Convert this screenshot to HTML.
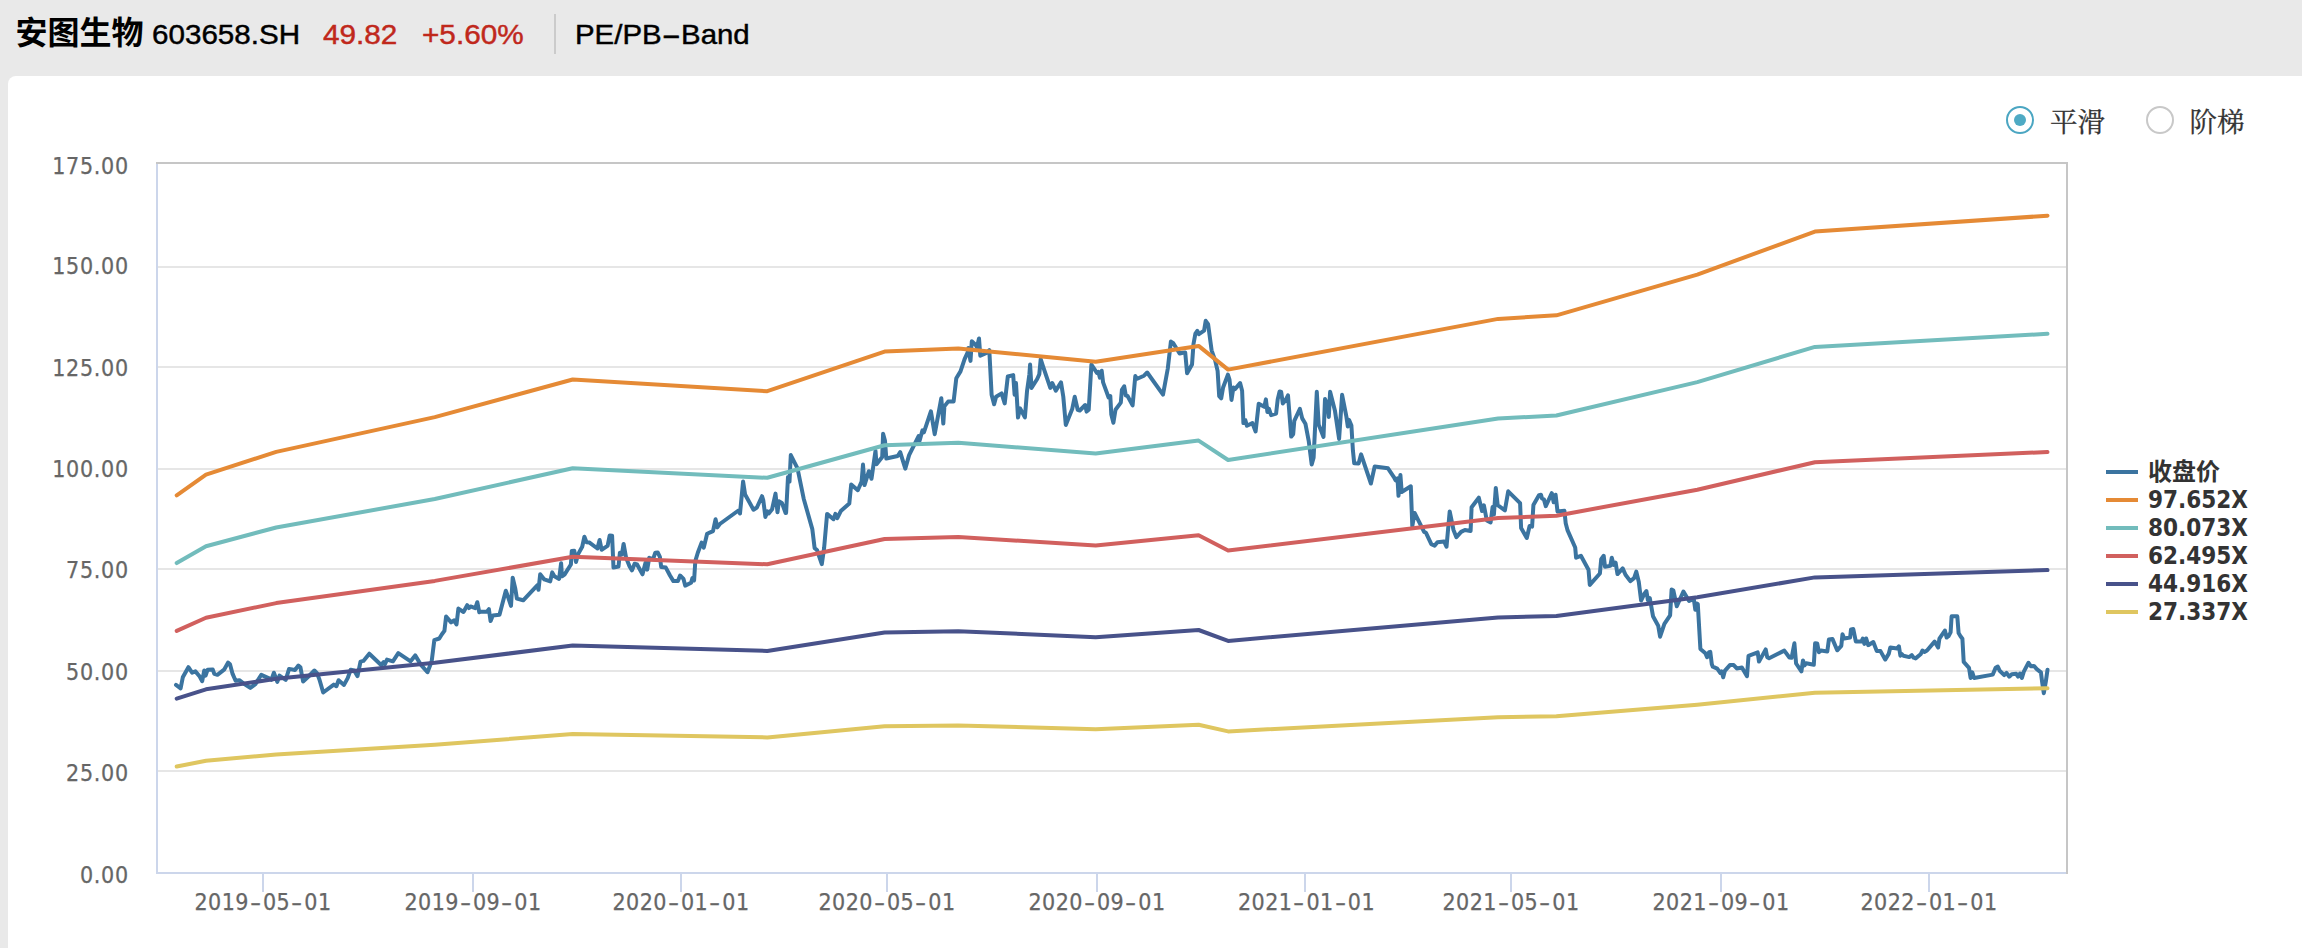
<!DOCTYPE html>
<html lang="zh-CN"><head><meta charset="utf-8"><title>PE/PB-Band</title>
<style>
html,body{margin:0;padding:0;}
body{width:2302px;height:948px;overflow:hidden;background:#e9e9e9;position:relative;font-family:"Liberation Sans","Noto Sans CJK SC",sans-serif;}
.panel{position:absolute;left:8px;top:76px;width:2310px;height:900px;background:#fff;border-radius:8px 0 0 0;}
.chart{position:absolute;left:0;top:0;}
.hd{position:absolute;top:0;height:68px;line-height:68px;white-space:nowrap;color:#000;}
.name{left:15.4px;top:-0.6px;font-size:32px;font-weight:bold;font-family:"Liberation Sans","Noto Sans CJK SC",sans-serif;}
.code{top:0.7px;left:152px;font-size:28px;transform:scaleX(1.057);transform-origin:0 50%;-webkit-text-stroke:0.45px currentColor;}
.px{top:0.7px;left:323px;font-size:28px;color:#c0281c;transform:scaleX(1.062);transform-origin:0 50%;-webkit-text-stroke:0.45px currentColor;}
.chg{top:0.7px;left:421.5px;font-size:28px;color:#c0281c;transform:scaleX(1.062);transform-origin:0 50%;-webkit-text-stroke:0.45px currentColor;}
.sep{position:absolute;left:554px;top:14px;width:2px;height:40px;background:#cbcbcb;}
.ttl{top:0.7px;left:574.7px;font-size:28px;transform:scaleX(1.05);transform-origin:0 50%;-webkit-text-stroke:0.45px currentColor;}
.ttl i{font-style:normal;display:inline-block;transform:scaleX(2);margin:0 4.6px;}
.yl{position:absolute;right:2173.2px;letter-spacing:0.7px;font:23px/28px "DejaVu Sans Condensed","DejaVu Sans",sans-serif;font-stretch:condensed;color:#666;white-space:nowrap;-webkit-text-stroke:0.25px #666;}
.xl{position:absolute;top:888px;width:200px;text-align:center;letter-spacing:0.45px;font:23px/28px "DejaVu Sans Condensed","DejaVu Sans",sans-serif;color:#666;white-space:nowrap;-webkit-text-stroke:0.25px #666;font-stretch:condensed;}
.xl i{font-style:normal;display:inline-block;transform:scaleX(1.5);margin:0 3.1px;}
.lg{position:absolute;left:2148px;font:bold 24px/28px "DejaVu Sans Condensed","DejaVu Sans","Noto Sans CJK SC",sans-serif;font-stretch:condensed;color:#333;white-space:nowrap;}
.radio{position:absolute;top:106px;width:24px;height:24px;border-radius:50%;border:2px solid #c8c8c8;background:#fff;}
.radio.on{border-color:#4ba6c2;}
.radio.on::after{content:"";position:absolute;left:6px;top:6px;width:12px;height:12px;border-radius:50%;background:#4eaac4;}
.rl{position:absolute;top:103.3px;font:27.5px/40px "Liberation Serif","Noto Serif CJK SC",serif;color:#333;white-space:nowrap;-webkit-text-stroke:0.3px #333;}
</style></head><body>
<div class="panel"></div>
<div class="hd name">安图生物</div>
<div class="hd code">603658.SH</div>
<div class="hd px">49.82</div>
<div class="hd chg">+5.60%</div>
<div class="sep"></div>
<div class="hd ttl">PE/PB<i>-</i>Band</div>

<svg class="chart" width="2302" height="948" viewBox="0 0 2302 948">
<rect x="158" y="266" width="1908" height="2" fill="#e6e6e6"/>
<rect x="158" y="366" width="1908" height="2" fill="#e6e6e6"/>
<rect x="158" y="468" width="1908" height="2" fill="#e6e6e6"/>
<rect x="158" y="568" width="1908" height="2" fill="#e6e6e6"/>
<rect x="158" y="670" width="1908" height="2" fill="#e6e6e6"/>
<rect x="158" y="770" width="1908" height="2" fill="#e6e6e6"/>
<rect x="156" y="162" width="1912" height="2" fill="#c6c6c6"/>
<rect x="2066" y="162" width="2" height="712" fill="#c6c6c6"/>
<rect x="156" y="164" width="2" height="710" fill="#ccd6eb"/>
<rect x="156" y="872" width="1910" height="2" fill="#ccd6eb"/>
<rect x="262" y="874" width="2" height="18" fill="#ccd6eb"/>
<rect x="472" y="874" width="2" height="18" fill="#ccd6eb"/>
<rect x="680" y="874" width="2" height="18" fill="#ccd6eb"/>
<rect x="886" y="874" width="2" height="18" fill="#ccd6eb"/>
<rect x="1096" y="874" width="2" height="18" fill="#ccd6eb"/>
<rect x="1304" y="874" width="2" height="18" fill="#ccd6eb"/>
<rect x="1510" y="874" width="2" height="18" fill="#ccd6eb"/>
<rect x="1720" y="874" width="2" height="18" fill="#ccd6eb"/>
<rect x="1928" y="874" width="2" height="18" fill="#ccd6eb"/>
<path d="M176 684.9 L180.6 688.3 L182.8 677.3 L188.4 667.2 L192.1 672.7 L195.4 671.4 L199.7 676.5 L202.2 681.2 L204.2 670.5 L205.6 675.6 L207.6 669.7 L212.7 669.4 L214.3 673.9 L217.4 674.8 L224.1 669.7 L228 662.6 L230 664.3 L232.6 673.9 L235.6 680.7 L239.3 680.2 L244.4 684.1 L250.3 687.9 L255.4 684.1 L261.3 674.8 L268 677.8 L271.4 679.8 L273.9 672.7 L277.3 681.9 L279.5 675.6 L285.7 679.8 L289.1 668.9 L295 670 L298.4 665.5 L300.4 667.2 L303.1 681.5 L308.5 676.5 L314.4 670.5 L317 673.1 L319.5 679.8 L323.2 692.5 L333.8 684.6 L336.4 686.2 L338.6 680.2 L344 684.9 L347.7 678.1 L350.7 669.7 L354.1 670.5 L357.5 676.1 L360.5 661.6 L363.4 660.9 L369.3 653.7 L381.1 665 L383.6 662.1 L384.8 664.3 L387 659.6 L392.9 661.3 L398.3 653.2 L410.6 661.3 L415.2 655.4 L420.8 664.6 L427.5 672.2 L431.7 661.3 L434.3 640.2 L439.3 638.5 L441.9 634.3 L444.4 630.9 L446.1 616.5 L451.1 622.4 L454 620.4 L456.5 624.5 L458.4 608.6 L463.5 612 L467.2 605.2 L468.9 608.1 L470.5 606.4 L475.3 608.1 L477.3 602.2 L479.3 612.3 L479.8 611.4 L486.9 611.8 L488.9 609.2 L490.6 621.1 L492.8 615.5 L499.5 614.8 L505.8 590.7 L508.5 598.3 L511 605.9 L512.7 577.7 L515.2 588.1 L516.9 598.6 L523.2 600.3 L537.5 585.1 L538.5 589.8 L540.2 574.3 L544.3 579.4 L550.2 581.4 L552.2 572.4 L554.4 576.3 L559.1 578.9 L561.1 563.2 L562 576.3 L564.5 574.6 L570.9 564.5 L571.8 551 L574.3 550.7 L576 562 L578 554.4 L582.2 546.8 L584.4 536.7 L586.5 542.2 L589.5 542.6 L597.4 548.5 L599.6 540 L601.6 549.7 L607.6 545.9 L609.7 535.5 L612.1 535.8 L613.5 567.6 L618.5 566.5 L619.9 552.7 L621.9 554.4 L623.6 543.9 L626.1 557.8 L629.5 566.2 L632 570.4 L634.6 563.7 L637.1 564.5 L642.5 574.3 L645.5 562.8 L647.2 569.6 L649.2 557.8 L653.1 559.1 L655.3 552.7 L657.7 552.4 L659.9 556.9 L661.2 567 L665.8 567.6 L670 575.5 L673.4 581.1 L677.9 581.1 L680.1 575.5 L683.5 578.9 L685.2 585.6 L691.1 582.7 L692.4 578 L694.1 580.5 L695.3 561.1 L697.8 552.7 L701.6 542.6 L703.8 547.6 L707.1 533.8 L713 531.1 L715.6 519.3 L717.3 527.4 L719.8 524 L738.4 510.5 L740 513.5 L743.1 481.5 L745.1 494.5 L753.5 509.7 L756.9 507.5 L762 496.2 L763.3 500.4 L765.4 516.9 L767.4 511.4 L768.7 513.5 L772.1 509.2 L775.5 493.6 L777.5 512.2 L778.9 501.2 L781.9 502.9 L785.6 513 L786.1 513 L788 476.9 L789.5 481.6 L790.8 455.1 L797.5 468.4 L803.7 498.7 L812.3 529.1 L814.6 548.1 L817 550 L821.8 564.2 L824.1 548.1 L827.1 513.9 L833.5 519.2 L835.4 513.9 L837.3 518.1 L840.8 511.1 L849.3 503.5 L851.2 484.5 L857.8 490.2 L861.6 481.6 L863 464.6 L864.5 485.1 L868.9 471.2 L871.5 478.8 L875.5 450.9 L876.5 464.2 L882.2 457 L883.1 433.8 L885 440.8 L886.3 458.5 L897.7 456 L900.2 452.2 L905.3 468.7 L909.1 455.1 L918.6 436.1 L919.6 440.8 L922.4 430.4 L923.9 432.3 L930.9 411.4 L934.7 434.2 L941.3 398.2 L943.3 423.5 L944.4 406.4 L948.1 401.6 L953.6 401.6 L956.3 378.3 L960.5 371.4 L964.6 359.1 L967.7 352.2 L968.3 348.1 L970.5 360.9 L971.8 341.3 L975.5 344.7 L976.9 347.4 L979 338.5 L980.3 355.7 L986.5 352.9 L989.3 350.2 L991.6 394.7 L994.1 404.3 L996.1 396.8 L1001.6 393.4 L1004.7 403.4 L1007.8 376.5 L1013.2 375.1 L1014.6 394.7 L1016 383.1 L1018 417.6 L1020.1 408.4 L1024.9 417.4 L1027 391.3 L1029.4 374.2 L1030.1 364.6 L1031.5 387.9 L1037.2 379 L1039.3 374.2 L1040.7 359.1 L1042.7 365.3 L1050.3 387.9 L1052.3 383.1 L1055.8 390.6 L1061 382.4 L1063.3 396.8 L1065.8 424.9 L1072.2 409.1 L1074.7 396.8 L1077.7 409.8 L1079.8 410.5 L1085.2 405 L1086.6 411.6 L1088.7 409.8 L1091.4 364.6 L1096.9 372.8 L1098.3 371.8 L1099.9 377.6 L1101.7 370.7 L1103.1 382.4 L1108.6 397.5 L1110.3 396.1 L1111.3 414.6 L1113.4 422.8 L1115.5 409.7 L1120.8 402.6 L1121.9 389.9 L1124.2 386.3 L1125.8 395.4 L1127.7 396.2 L1132.6 405.4 L1135.3 376.1 L1137.2 378.8 L1144 375.7 L1147.2 372.5 L1163 394.7 L1167.8 368.5 L1170.9 341.6 L1173.3 343.2 L1179.6 353.5 L1182.8 352.7 L1185.2 352.4 L1187.1 373.3 L1192 364.6 L1193.5 344 L1195.4 333.7 L1197.3 330.9 L1198.9 334.1 L1204.1 330.6 L1205.7 320.8 L1208.1 324.2 L1211.6 350.3 L1215.2 360.6 L1217.6 370.9 L1219.2 396.2 L1221.2 398.3 L1223.1 387.5 L1227.9 374.6 L1229.5 379.6 L1231.5 399.9 L1233.4 387.5 L1235 389.1 L1240.1 383.1 L1242.1 390.7 L1243.4 423.1 L1245.3 420 L1246.9 425.8 L1252.4 423.1 L1255.6 431.5 L1258.7 403.7 L1264.3 406.8 L1265.9 399.4 L1267.4 412.1 L1269 408.9 L1271.1 415.2 L1276.1 413.6 L1277.7 399.4 L1279.6 391.5 L1281.2 392 L1282.8 403.4 L1285.6 400.2 L1288 395.4 L1291.2 436.6 L1293.2 434.2 L1294.3 420.8 L1299.9 408.9 L1302.2 418.4 L1305.4 423.7 L1308.7 440.8 L1311.7 464.5 L1313.6 457.8 L1316.8 391.8 L1318.7 424.6 L1323.5 437 L1325 399 L1327.7 404.7 L1328.8 417 L1330.1 391.8 L1334.9 410.4 L1339.1 438.9 L1342.1 394.8 L1346.3 416.1 L1347.8 426.5 L1349.1 419.9 L1351.4 425.6 L1352.9 450.3 L1354.2 463.2 L1358.6 463.5 L1361.1 454.4 L1370.9 483.5 L1374.7 466.4 L1388 468.3 L1393.7 476.8 L1395.6 480.3 L1397.5 478.4 L1398.5 495.8 L1400.4 474.9 L1401.7 492 L1410.8 486.3 L1412.3 526.2 L1414.6 512.9 L1424.1 531.9 L1426 532.8 L1431.3 544.2 L1434.6 545.6 L1437.4 542.3 L1444.1 541.4 L1446.5 546.7 L1449.7 511.4 L1453.5 530 L1456.4 537.2 L1461.1 531.9 L1464.9 530 L1470.6 530.9 L1471.6 507.2 L1478.8 497.7 L1482 511 L1483.9 505.3 L1486.8 520.5 L1490.6 522.4 L1492.6 507 L1493.9 514.6 L1495.8 488 L1497.7 505.1 L1504.9 510.3 L1508.2 491.3 L1520.1 503.2 L1521.1 527.9 L1526.8 538 L1529.6 526 L1532.1 526.6 L1533.4 505.1 L1539.1 495.1 L1541 494.7 L1542 498.5 L1543.9 499.4 L1545.8 506.1 L1551.8 493.2 L1553.7 502.3 L1555.6 494.7 L1557.5 511.4 L1564.4 510.8 L1565.7 523.2 L1567.6 530.4 L1575.2 547.5 L1576.1 557.7 L1580.9 555.8 L1588.5 569.7 L1589.8 584.9 L1599.9 573.5 L1601.2 559.2 L1603.7 555.8 L1605 566.8 L1610.3 565.9 L1611.8 557.7 L1613.7 564.9 L1615.6 562.7 L1617.5 574.1 L1622.7 568.4 L1625.5 574.8 L1630.3 581.1 L1634.1 578.2 L1636.3 571.6 L1638.8 582 L1641.1 600.6 L1644.5 593.4 L1646.4 591.1 L1647.9 600.1 L1649.8 598.2 L1653 616.2 L1658.2 625.7 L1660.1 636.7 L1664.4 623.8 L1670.1 615.3 L1671.6 589.6 L1673.4 590.6 L1676.8 606.3 L1683.4 591.5 L1689.1 601 L1693.8 599 L1695.3 609.7 L1696.3 603.4 L1697.8 604.1 L1700.4 649 L1705.4 653.2 L1707.1 657.2 L1709 652.2 L1710.3 651.9 L1711.8 664.2 L1712.8 666.7 L1717.2 668.6 L1720.4 673 L1721.6 671.4 L1723.2 677.2 L1724.8 670.9 L1729.9 665.1 L1733.7 665.1 L1736.8 668.4 L1741.9 667.6 L1747 676.2 L1748.5 655.9 L1757.7 652.4 L1759 661.6 L1765.7 649.4 L1767.2 657.2 L1769.1 658.2 L1784.3 650.6 L1789.4 657.5 L1791.6 657.8 L1794.4 643.3 L1796.1 663.5 L1801.4 671.4 L1803 660.4 L1804.6 665.4 L1806.2 663.3 L1813.8 664.8 L1815.1 643.3 L1817.2 643.5 L1818.9 652.2 L1821 650.6 L1827.3 651.5 L1828.9 639.5 L1832.4 638.9 L1837.2 650.3 L1841.3 645.8 L1842.5 634.2 L1844.2 638.5 L1850.1 637.6 L1851 629.4 L1853.3 629.1 L1855.8 641.4 L1861.5 641.4 L1862.8 638.5 L1864.4 643.9 L1866.2 638.5 L1868.2 645.2 L1873.3 642 L1876.7 650.9 L1880.5 651.1 L1885.2 659.6 L1888.7 653.9 L1890.3 647.6 L1897.2 648.5 L1898.9 646.3 L1900.4 655.8 L1901.6 653.9 L1903.5 655.8 L1909.2 657.1 L1911.8 655.2 L1913.7 657.7 L1915.6 658.4 L1920.6 654.3 L1922.5 650.5 L1924.4 652 L1927 650.5 L1934.6 641.6 L1938.1 647.6 L1939.4 638.7 L1944.9 630.5 L1946.6 637.5 L1948.5 636.2 L1950.6 632.4 L1951.6 616.3 L1957.3 616.3 L1958.6 633 L1960.5 636.2 L1962.4 638.7 L1963.7 661.9 L1969 667.8 L1970.6 678 L1972.3 672.3 L1974.1 678 L1992.8 674.6 L1995.6 667.8 L1997.8 666.6 L1999.7 670.8 L2004.2 675.1 L2006.5 672.9 L2009.2 676.7 L2011.8 674.2 L2016.2 673.8 L2018.1 676.7 L2020 673.5 L2021.9 678 L2023.8 671.6 L2028.5 662.8 L2030.8 666.2 L2033.9 665.9 L2036.8 669.1 L2040.9 672.3 L2042.2 682.4 L2043.8 693.2 L2045.9 681.1 L2047.5 669.7" fill="none" stroke="#3b74a0" stroke-width="4" stroke-linejoin="round" stroke-linecap="round"/>
<path d="M176.7 495.3 L206 474.7 L276.2 451.9 L434.8 417.1 L572.7 379.5 L767.3 391.2 L884.6 351.6 L958.3 348.5 L1095.7 361.8 L1198.6 345.9 L1228.1 369.6 L1498.1 318.9 L1556.4 315.3 L1697.3 274.6 L1814.9 231.6 L2047.5 215.7" fill="none" stroke="#e58a35" stroke-width="4" stroke-linejoin="round" stroke-linecap="round"/>
<path d="M176.7 563.1 L206 546.2 L276.2 527.5 L434.8 499 L572.7 468.2 L767.3 477.8 L884.6 445.3 L958.3 442.7 L1095.7 453.6 L1198.6 440.6 L1228.1 460 L1498.1 418.5 L1556.4 415.5 L1697.3 382.1 L1814.9 346.9 L2047.5 333.8" fill="none" stroke="#72bcbc" stroke-width="4" stroke-linejoin="round" stroke-linecap="round"/>
<path d="M176.7 630.9 L206 617.7 L276.2 603.1 L434.8 580.9 L572.7 556.8 L767.3 564.3 L884.6 539 L958.3 537 L1095.7 545.5 L1198.6 535.3 L1228.1 550.5 L1498.1 518 L1556.4 515.7 L1697.3 489.7 L1814.9 462.2 L2047.5 452" fill="none" stroke="#d1605e" stroke-width="4" stroke-linejoin="round" stroke-linecap="round"/>
<path d="M176.7 698.7 L206 689.3 L276.2 678.8 L434.8 662.8 L572.7 645.5 L767.3 650.9 L884.6 632.6 L958.3 631.2 L1095.7 637.3 L1198.6 630 L1228.1 640.9 L1498.1 617.6 L1556.4 615.9 L1697.3 597.2 L1814.9 577.4 L2047.5 570.1" fill="none" stroke="#48528a" stroke-width="4" stroke-linejoin="round" stroke-linecap="round"/>
<path d="M176.7 766.5 L206 760.8 L276.2 754.4 L434.8 744.7 L572.7 734.1 L767.3 737.4 L884.6 726.3 L958.3 725.4 L1095.7 729.2 L1198.6 724.7 L1228.1 731.4 L1498.1 717.2 L1556.4 716.2 L1697.3 704.8 L1814.9 692.7 L2047.5 688.3" fill="none" stroke="#dfc660" stroke-width="4" stroke-linejoin="round" stroke-linecap="round"/>
<rect x="2106" y="470" width="32" height="4" fill="#3b74a0"/>
<rect x="2106" y="498" width="32" height="4" fill="#e58a35"/>
<rect x="2106" y="526" width="32" height="4" fill="#72bcbc"/>
<rect x="2106" y="554" width="32" height="4" fill="#d1605e"/>
<rect x="2106" y="582" width="32" height="4" fill="#48528a"/>
<rect x="2106" y="610" width="32" height="4" fill="#dfc660"/>
</svg>
<div class="yl" style="top:152.35px">175.00</div>
<div class="yl" style="top:252.2px">150.00</div>
<div class="yl" style="top:353.6px">125.00</div>
<div class="yl" style="top:455px">100.00</div>
<div class="yl" style="top:556.4px">75.00</div>
<div class="yl" style="top:657.7px">50.00</div>
<div class="yl" style="top:758.5px">25.00</div>
<div class="yl" style="top:860.5px">0.00</div>
<div class="xl" style="left:163px">2019<i>-</i>05<i>-</i>01</div>
<div class="xl" style="left:373px">2019<i>-</i>09<i>-</i>01</div>
<div class="xl" style="left:581px">2020<i>-</i>01<i>-</i>01</div>
<div class="xl" style="left:787px">2020<i>-</i>05<i>-</i>01</div>
<div class="xl" style="left:997px">2020<i>-</i>09<i>-</i>01</div>
<div class="xl" style="left:1206.5px">2021<i>-</i>01<i>-</i>01</div>
<div class="xl" style="left:1411px">2021<i>-</i>05<i>-</i>01</div>
<div class="xl" style="left:1621px">2021<i>-</i>09<i>-</i>01</div>
<div class="xl" style="left:1829px">2022<i>-</i>01<i>-</i>01</div>
<div class="lg" style="top:458px">收盘价</div>
<div class="lg" style="top:486px">97.652X</div>
<div class="lg" style="top:514px">80.073X</div>
<div class="lg" style="top:542px">62.495X</div>
<div class="lg" style="top:570px">44.916X</div>
<div class="lg" style="top:598px">27.337X</div>
<div class="radio on" style="left:2006px"></div><div class="rl" style="left:2050px">平滑</div>
<div class="radio" style="left:2146px"></div><div class="rl" style="left:2189.6px">阶梯</div>
</body></html>
